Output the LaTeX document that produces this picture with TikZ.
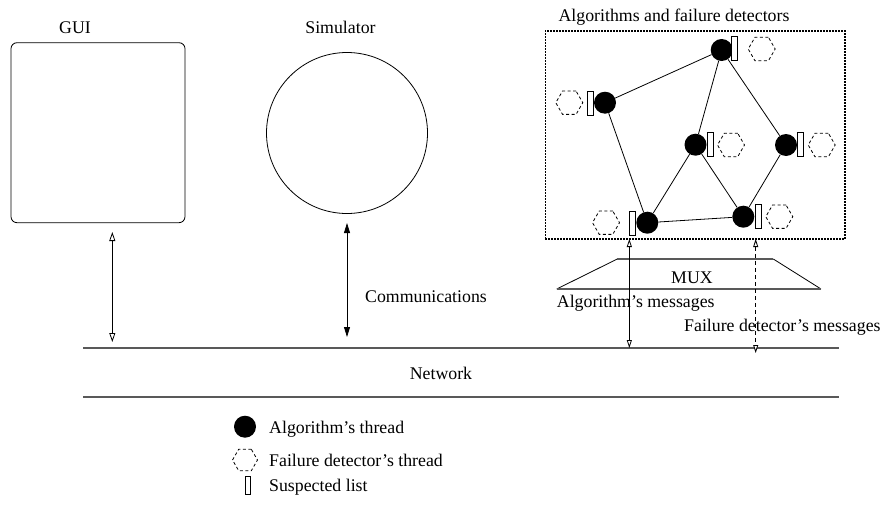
\documentclass[tikz,border=0pt]{standalone}
\usepackage{fontspec}
\setmainfont{Liberation Serif}
\usetikzlibrary{shapes.geometric,arrows.meta}
\begin{document}
\begin{tikzpicture}[x=1pt,y=-1pt,
  every node/.style={font=\fontsize{17.8}{20}\selectfont, inner sep=0pt},
  lbl/.style={text height=0.68em, text depth=0.2em},
  thread/.style={circle, fill=black, minimum size=22pt},
  fdthread/.style={regular polygon, regular polygon sides=6, draw, line width=0.8pt, dash pattern=on 3pt off 2.5pt, minimum size=27pt},
  slist/.style={rectangle, draw, fill=white, minimum width=6pt, minimum height=24pt, line width=0.8pt},
  link/.style={line width=0.8pt},
  netline/.style={line width=1.3pt, black!65},
  guiarrow/.style={line width=0.8pt, {Triangle[open, length=9pt, width=6pt]}-{Triangle[open, length=9pt, width=6pt]}},
  simarrow/.style={line width=0.8pt, {Triangle[length=10pt, width=6pt]}-{Triangle[length=10pt, width=6pt]}},
  msgarrow/.style={line width=0.8pt, {Triangle[open, length=8pt, width=5pt, fill=white]}-{Triangle[open, length=8pt, width=5pt, fill=white]}},
]
\useasboundingbox (0,0) rectangle (884,506);

% GUI
\node[lbl] (guilbl) at (75,31) {GUI};
\node[draw, rounded corners=6pt, minimum width=174pt, minimum height=180pt, line width=0.8pt] (gui) at (98,132.7) {};

% Simulator
\node[lbl] (simlbl) at (340.5,31) {Simulator};
\node[circle, draw, line width=0.8pt, minimum size=161pt] (sim) at (347,133) {};

% Network
\coordinate (n1) at (83,348);
\coordinate (n2) at (839,348);
\coordinate (n3) at (83,397);
\coordinate (n4) at (839,397);
\draw[netline] (n1) -- (n2);
\draw[netline] (n3) -- (n4);
\node[lbl] (net) at (441,377) {Network};

% GUI and simulator arrows
\coordinate (guitop) at (112.3,232);
\coordinate (guibot) at (112.3,342);
\draw[guiarrow] (guitop) -- (guibot);
\coordinate (simtop) at (347,223);
\coordinate (simbot) at (347,337);
\draw[simarrow] (simtop) -- (simbot);
\node[lbl, anchor=west] (comm) at (365,300) {Communications};

% Algorithms box
\node[lbl] (alglbl) at (674,19) {Algorithms and failure detectors};
\node[draw, line width=1.5pt, dash pattern=on 1.5pt off 1.5pt, minimum width=299.7pt, minimum height=208.2pt] (algbox) at (695.2,134.9) {};

% threads
\node[thread] (A) at (605,102.7) {};
\node[thread] (B) at (647.3,222.7) {};
\node[thread] (C) at (721.7,50) {};
\node[thread] (D) at (695.5,144.7) {};
\node[thread] (E) at (786,145) {};
\node[thread] (F) at (743.3,216.7) {};

\draw[link] (A) -- (C);
\draw[link] (A) -- (B);
\draw[link] (C) -- (D);
\draw[link] (C) -- (E);
\draw[link] (D) -- (B);
\draw[link] (D) -- (F);
\draw[link] (B) -- (F);
\draw[link] (E) -- (F);

% suspected lists
\node[slist] (sA) at (590.3,102.9) {};
\node[slist] (sB) at (632.3,222.9) {};
\node[slist] (sC) at (734.5,48.7) {};
\node[slist] (sD) at (710.3,144.7) {};
\node[slist] (sE) at (800.3,144.7) {};
\node[slist] (sF) at (758,216.7) {};

% failure detector threads
\node[fdthread] (hA) at (569.3,102.7) {};
\node[fdthread] (hB) at (606,222.7) {};
\node[fdthread] (hC) at (761.7,49) {};
\node[fdthread] (hD) at (731,145) {};
\node[fdthread] (hE) at (821.7,145) {};
\node[fdthread] (hF) at (779.3,216.7) {};

% MUX
\coordinate (m1) at (556.7,289);
\coordinate (m2) at (617.3,259);
\coordinate (m3) at (773.3,259);
\coordinate (m4) at (821,289);
\draw[line width=0.8pt] (m1) -- (m2);
\draw[line width=0.8pt] (m3) -- (m4);
\draw[netline] (m2) -- (m3);
\draw[netline] (m1) -- (m4);
\node[lbl] (mux) at (692,281.5) {MUX};

% message arrows
\coordinate (amtop) at (629.3,239);
\coordinate (ambot) at (629.3,348);
\draw[msgarrow] (amtop) -- (ambot);
\coordinate (fmtop) at (755.7,239);
\coordinate (fmbot) at (755.7,353);
\draw[msgarrow, dash pattern=on 4pt off 3pt] (fmtop) -- (fmbot);
\node[lbl, anchor=west] (amlbl) at (556.7,305.5) {Algorithm's messages};
\node[lbl, anchor=west] (fmlbl) at (684,329.5) {Failure detector's messages};

% Legend
\node[thread] (lgA) at (245,426.7) {};
\node[lbl, anchor=west] (lgAt) at (269,430.7) {Algorithm's thread};
\node[fdthread, minimum size=25pt] (lgF) at (245,460) {};
\node[lbl, anchor=west] (lgFt) at (269,464) {Failure detector's thread};
\node[slist, minimum width=5pt, minimum height=18pt] (lgS) at (248,485.5) {};
\node[lbl, anchor=west] (lgSt) at (269,489) {Suspected list};
\end{tikzpicture}
\end{document}
